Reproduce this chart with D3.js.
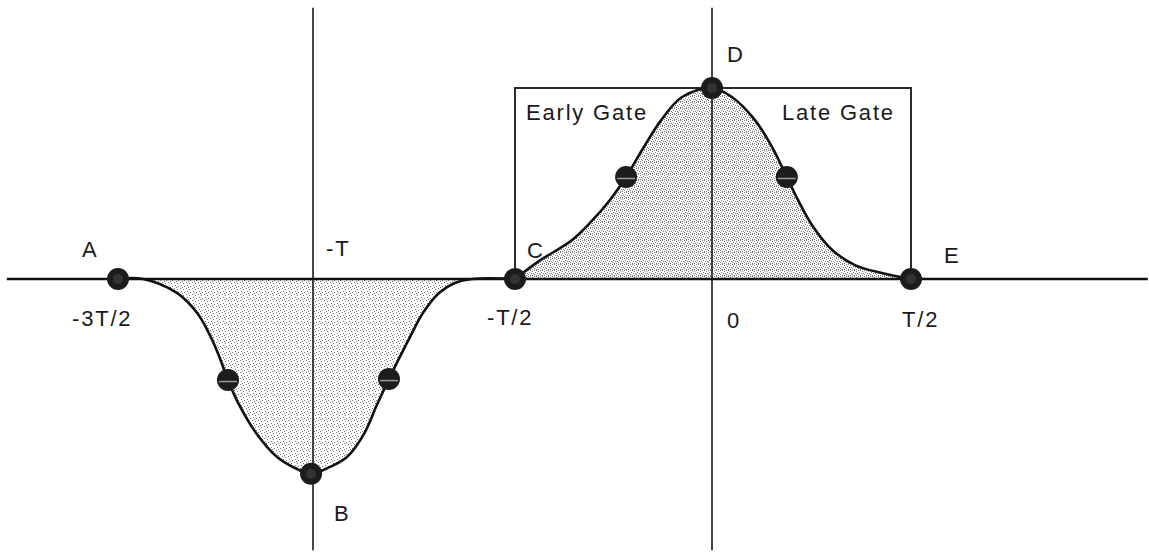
<!DOCTYPE html>
<html>
<head>
<meta charset="utf-8">
<script src="https://cdn.jsdelivr.net/npm/d3@7"></script>
<style>
  html, body { margin: 0; padding: 0; background: #fff; }
  svg { display: block; }
  text { font-family: "Liberation Sans", Arial, Helvetica, sans-serif; font-size: 22px; fill: #1a1a1a; letter-spacing: 1.8px; }
</style>
</head>
<body>
<svg id="chart" width="1149" height="554"></svg>
<script>
// ---- data (t in units of T, v = normalised amplitude) ----
const negT = [-1.5, -1.436, -1.349, -1.297, -1.267, -1.244, -1.218, -1.192, -1.146, -1.092, -1.041, -1.005,
              -0.958, -0.916, -0.874, -0.842, -0.812, -0.785, -0.760, -0.728, -0.688, -0.649, -0.606, -0.5];
const negV = [0, 0, -0.073, -0.178, -0.283, -0.387, -0.529, -0.649, -0.806, -0.932, -0.995, -1.02,
              -0.984, -0.932, -0.812, -0.660, -0.524, -0.408, -0.304, -0.178, -0.073, -0.021, 0, 0];
const posT = [-0.5, -0.442, -0.355, -0.305, -0.259, -0.218, -0.173, -0.129, -0.076, 0,
              0.050, 0.108, 0.151, 0.188, 0.216, 0.251, 0.302, 0.359, 0.427, 0.5];
const posV = [0, 0.09, 0.204, 0.304, 0.414, 0.534, 0.691, 0.832, 0.953, 1,
              0.953, 0.832, 0.691, 0.534, 0.414, 0.283, 0.152, 0.073, 0.031, 0];
const dotT = [-1.5, -1.218, -1.005, -0.812, -0.5, -0.218, 0, 0.188, 0.5];
const dotV = [0, -0.529, -1.02, -0.524, 0, 0.534, 1, 0.534, 0];
const midDot = [false, true, false, true, false, true, false, true, false];
const tickT = [-1.5, -1, -0.5, 0, 0.5];
const tickLabels = ["-3T/2", "-T", "-T/2", "0", "T/2"];
const pointLabels = ["A", "B", "C", "D", "E"];
const gateLabels = ["Early Gate", "Late Gate"];
const vLines = [-1, 0];

const svg = d3.select("#chart");

// piecewise-linear x scale (the scanned drawing is not perfectly uniform)
const x = d3.scaleLinear().domain(tickT).range([118, 313, 515, 712, 911]);
const y = d3.scaleLinear().domain([0, 1]).range([279, 88]);

// stipple patterns
const defs = svg.append("defs");
function stipple(id, dots, col) {
  const p = defs.append("pattern").attr("id", id).attr("patternUnits", "userSpaceOnUse")
    .attr("width", 6).attr("height", 6);
  dots.forEach(d => p.append("rect").attr("x", d[0]).attr("y", d[1]).attr("width", 1).attr("height", 1).attr("fill", col));
}
stipple("stipNeg", [[0,0],[3,1],[1,3],[4,4],[2,5]], "#777");
stipple("stipPos", [[0,0],[2,0],[4,1],[1,2],[3,3],[5,3],[0,4],[2,5],[4,5]], "#7a7a7a");

const negData = negT.map((t, i) => ({t, v: negV[i]}));
const posData = posT.map((t, i) => ({t, v: posV[i]}));

const crv = d3.curveCatmullRom.alpha(0.5);
const area = d3.area().x(d => x(d.t)).y0(y(0)).y1(d => y(d.v)).curve(crv);
const line = d3.line().x(d => x(d.t)).y(d => y(d.v)).curve(crv);

svg.append("path").attr("d", area(negData)).attr("fill", "url(#stipNeg)");
svg.append("path").attr("d", area(posData)).attr("fill", "url(#stipPos)");

// gate box
svg.append("rect")
  .attr("x", x(-0.5)).attr("y", y(1))
  .attr("width", x(0.5) - x(-0.5)).attr("height", y(0) - y(1))
  .attr("fill", "none").attr("stroke", "#2a2a2a").attr("stroke-width", 2);

// vertical reference lines
svg.selectAll(".vline").data(vLines).enter().append("line")
  .attr("x1", d => x(d)).attr("x2", d => x(d))
  .attr("y1", y(1.42)).attr("y2", y(-1.42))
  .attr("stroke", "#1a1a1a").attr("stroke-width", 1.6);

// horizontal axis
svg.append("line")
  .attr("x1", x(-1.785)).attr("x2", x(1.095))
  .attr("y1", y(0)).attr("y2", y(0))
  .attr("stroke", "#111").attr("stroke-width", 2.5);

// curves
[negData, posData].forEach(d => {
  svg.append("path").attr("d", line(d)).attr("fill", "none")
    .attr("stroke", "#111").attr("stroke-width", 2.6);
});

// dots
const dots = svg.selectAll(".dot").data(dotT.map((t, i) => ({t, v: dotV[i], mid: midDot[i]})))
  .enter().append("g").attr("transform", d => `translate(${x(d.t)},${y(d.v)})`);
dots.append("circle").attr("r", 11).attr("fill", "#1c1c1c");
dots.filter(d => d.mid).append("line")
  .attr("x1", -9).attr("x2", 9).attr("y1", 1.5).attr("y2", 1.5)
  .attr("stroke", "#9a9a9a").attr("stroke-width", 1.5);
dots.filter(d => !d.mid).append("circle").attr("r", 5).attr("fill", "#333");

// tick labels (left x, baseline)
const tickPos = [[72, 326], [326, 256], [487, 325], [727, 328], [902, 327]];
svg.selectAll(".tick").data(tickLabels).enter().append("text")
  .attr("x", (d, i) => tickPos[i][0]).attr("y", (d, i) => tickPos[i][1]).text(d => d);

// point labels
const ptPos = [[82, 257], [334, 521], [527, 258], [727, 62], [944, 263]];
svg.selectAll(".pt").data(pointLabels).enter().append("text")
  .attr("x", (d, i) => ptPos[i][0]).attr("y", (d, i) => ptPos[i][1]).text(d => d);

// gate labels
const gatePos = [[526, 120], [782, 120]];
svg.selectAll(".gate").data(gateLabels).enter().append("text")
  .attr("x", (d, i) => gatePos[i][0]).attr("y", (d, i) => gatePos[i][1]).text(d => d);
</script>
</body>
</html>
